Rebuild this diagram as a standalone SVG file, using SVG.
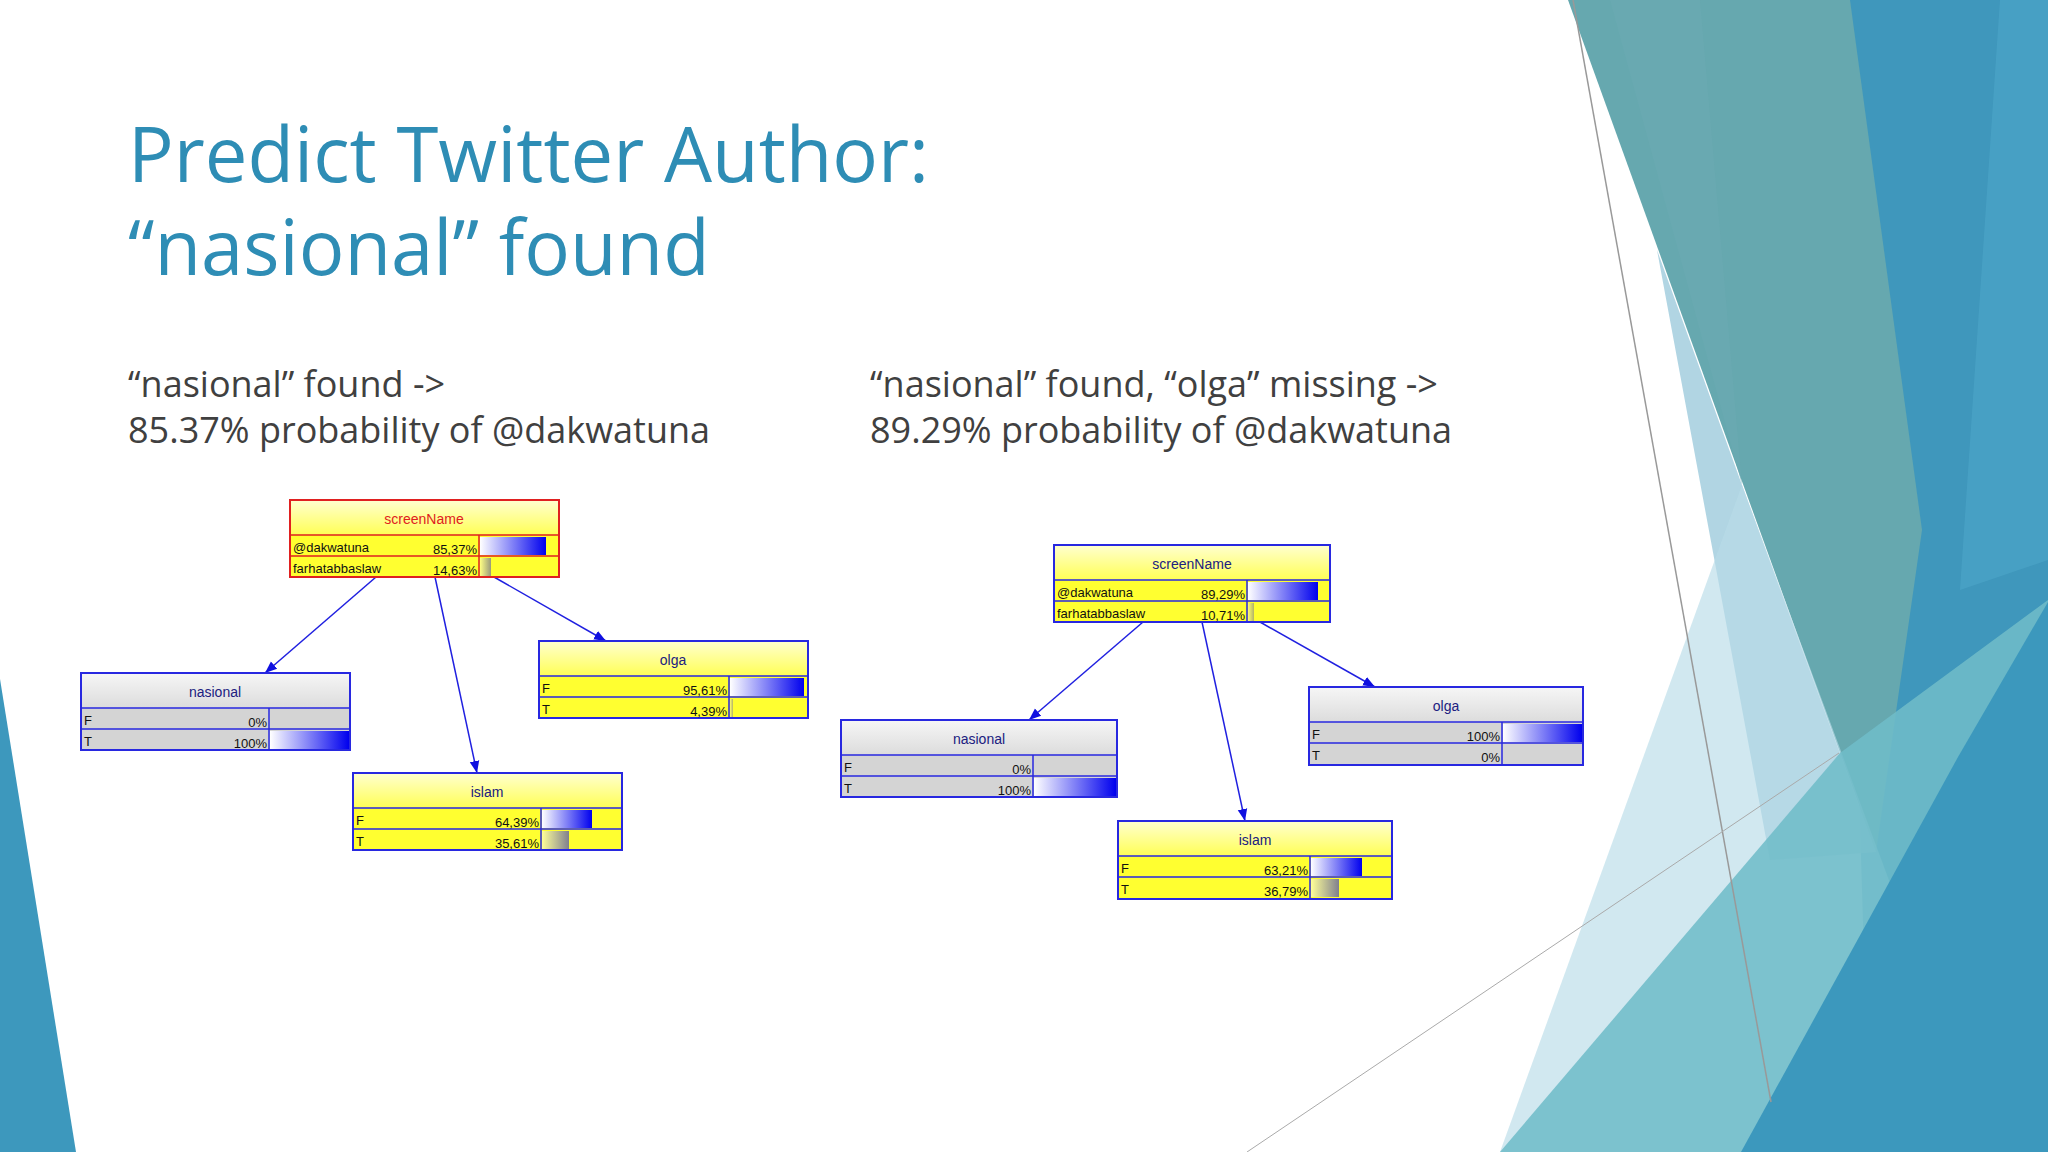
<svg xmlns="http://www.w3.org/2000/svg" width="2048" height="1152" viewBox="0 0 2048 1152">
<defs>
<linearGradient id="bar" x1="0" x2="1" y1="0" y2="0"><stop offset="0" stop-color="#ffffff"/><stop offset="1" stop-color="#0000ee"/></linearGradient>
<linearGradient id="hy" x1="0" x2="0" y1="0" y2="1"><stop offset="0" stop-color="#ffffd0"/><stop offset="1" stop-color="#ffff55"/></linearGradient>
<linearGradient id="hg" x1="0" x2="0" y1="0" y2="1"><stop offset="0" stop-color="#f6f6f6"/><stop offset="1" stop-color="#dcdcdc"/></linearGradient>
<marker id="ah" viewBox="0 0 10 10" refX="10" refY="5" markerWidth="8" markerHeight="8" orient="auto"><path d="M0,1 L10,5 L0,9 z" fill="#1010e0"/></marker>
</defs>
<style>
.title{font-family:"Open Sans","Liberation Sans",sans-serif;font-size:76px;fill:#2e8db5}
.sub{font-family:"Open Sans","Liberation Sans",sans-serif;font-size:36px;fill:#404040}
.nb{stroke:#2828e0;stroke-width:2}
.red{stroke:#e02020;stroke-width:2}
.ry{fill:#ffff30}
.rg{fill:#d4d4d4}
.ln{stroke:#2828e0;stroke-width:1.5;fill:none}
.t{font-family:"Liberation Sans",sans-serif;font-size:13px;fill:#111}
.h{font-family:"Liberation Sans",sans-serif;font-size:14px;fill:#202080;text-anchor:middle}
.v{text-anchor:end}
.conn{stroke:#2020e0;stroke-width:1.5;fill:none;marker-end:url(#ah)}
</style>
<rect width="2048" height="1152" fill="#ffffff"/>
<g id="background">
<polygon points="0,679 0,1152 76,1152" fill="#3d98bd"/>
<polygon points="1835,0 2048,0 2048,1152 1870,1152" fill="#3f97bc"/>
<polygon points="2000,0 2048,0 2048,560 1960,590" fill="#4aa3c6" opacity="0.8"/>
<polygon points="1568,0 1850,0 1922,530 1876,852" fill="#66a8af"/>
<polygon points="1610,0 1700,0 1742,485" fill="#6aaab2" opacity="0.6"/>
<polygon points="1657,250 1742,485 1876,852 1770,860" fill="#a8d0e0" opacity="0.9"/>
<polygon points="1500,1152 1742,485 1990,1152" fill="#b8dce8" opacity="0.65"/>
<polygon points="1500,1152 1840,753 2048,600 2048,1152" fill="#6fbcc8" opacity="0.88"/>
<polygon points="1741,1152 1958,757 2048,602 2048,1152" fill="#3c98bd"/>
<line x1="1573" y1="0" x2="1771" y2="1102" stroke="#999" stroke-width="1.5"/>
<line x1="1247" y1="1152" x2="1839" y2="753" stroke="#aaa" stroke-width="1"/>
</g>
<text class="title" x="128" y="182">Predict Twitter Author:</text>
<text class="title" x="128" y="275">“nasional” found</text>
<text class="sub" x="128" y="397">“nasional” found -&gt;</text>
<text class="sub" x="128" y="443">85.37% probability of @dakwatuna</text>
<text class="sub" x="870" y="397">“nasional” found, “olga” missing -&gt;</text>
<text class="sub" x="870" y="443">89.29% probability of @dakwatuna</text>

<g id="connectors">
<line class="conn" x1="376" y1="577" x2="265" y2="673"/>
<line class="conn" x1="435" y1="577" x2="477" y2="773"/>
<line class="conn" x1="494" y1="577" x2="606" y2="641"/>
<line class="conn" x1="1143" y1="622" x2="1029" y2="720"/>
<line class="conn" x1="1202" y1="622" x2="1245" y2="821"/>
<line class="conn" x1="1260" y1="622" x2="1375" y2="687"/>
</g>

<g id="L-screenName">
<rect x="290" y="500" width="269" height="35" fill="url(#hy)"/>
<rect x="290" y="535" width="269" height="42" class="ry"/>
<rect x="480" y="537" width="66" height="18" fill="url(#bar)"/>
<rect x="480" y="558" width="11" height="18" fill="url(#bar)" opacity="0.4"/>
<path class="ln" d="M290,535H559M290,556H559M479,535V577" style="stroke:#e02020"/>
<rect x="290" y="500" width="269" height="77" fill="none" class="red"/>
<text class="h" x="424" y="524" style="fill:#e02020">screenName</text>
<text class="t" x="293" y="552">@dakwatuna</text><text class="t v" x="477" y="554">85,37%</text>
<text class="t" x="293" y="573">farhatabbaslaw</text><text class="t v" x="477" y="575">14,63%</text>
</g>
<g id="L-nasional">
<rect x="81" y="673" width="269" height="35" fill="url(#hg)"/>
<rect x="81" y="708" width="269" height="42" class="rg"/>
<rect x="270" y="731" width="79" height="18" fill="url(#bar)"/>
<path class="ln" d="M81,708H350M81,729H350M269,708V750"/>
<rect x="81" y="673" width="269" height="77" fill="none" class="nb"/>
<text class="h" x="215" y="697">nasional</text>
<text class="t" x="84" y="725">F</text><text class="t v" x="267" y="727">0%</text>
<text class="t" x="84" y="746">T</text><text class="t v" x="267" y="748">100%</text>
</g>
<g id="L-olga">
<rect x="539" y="641" width="269" height="35" fill="url(#hy)"/>
<rect x="539" y="676" width="269" height="42" class="ry"/>
<rect x="730" y="678" width="74" height="18" fill="url(#bar)"/>
<rect x="730" y="699" width="3" height="18" fill="url(#bar)" opacity="0.3"/>
<path class="ln" d="M539,676H808M539,697H808M729,676V718"/>
<rect x="539" y="641" width="269" height="77" fill="none" class="nb"/>
<text class="h" x="673" y="665">olga</text>
<text class="t" x="542" y="693">F</text><text class="t v" x="727" y="695">95,61%</text>
<text class="t" x="542" y="714">T</text><text class="t v" x="727" y="716">4,39%</text>
</g>
<g id="L-islam">
<rect x="353" y="773" width="269" height="35" fill="url(#hy)"/>
<rect x="353" y="808" width="269" height="42" class="ry"/>
<rect x="542" y="810" width="50" height="18" fill="url(#bar)"/>
<rect x="542" y="831" width="27" height="18" fill="url(#bar)" opacity="0.5"/>
<path class="ln" d="M353,808H622M353,829H622M541,808V850"/>
<rect x="353" y="773" width="269" height="77" fill="none" class="nb"/>
<text class="h" x="487" y="797">islam</text>
<text class="t" x="356" y="825">F</text><text class="t v" x="539" y="827">64,39%</text>
<text class="t" x="356" y="846">T</text><text class="t v" x="539" y="848">35,61%</text>
</g>

<g id="R-screenName">
<rect x="1054" y="545" width="276" height="35" fill="url(#hy)"/>
<rect x="1054" y="580" width="276" height="42" class="ry"/>
<rect x="1248" y="582" width="70" height="18" fill="url(#bar)"/>
<rect x="1248" y="603" width="6" height="18" fill="url(#bar)" opacity="0.3"/>
<path class="ln" d="M1054,580H1330M1054,601H1330M1247,580V622"/>
<rect x="1054" y="545" width="276" height="77" fill="none" class="nb"/>
<text class="h" x="1192" y="569">screenName</text>
<text class="t" x="1057" y="597">@dakwatuna</text><text class="t v" x="1245" y="599">89,29%</text>
<text class="t" x="1057" y="618">farhatabbaslaw</text><text class="t v" x="1245" y="620">10,71%</text>
</g>
<g id="R-nasional">
<rect x="841" y="720" width="276" height="35" fill="url(#hg)"/>
<rect x="841" y="755" width="276" height="42" class="rg"/>
<rect x="1034" y="778" width="82" height="18" fill="url(#bar)"/>
<path class="ln" d="M841,755H1117M841,776H1117M1033,755V797"/>
<rect x="841" y="720" width="276" height="77" fill="none" class="nb"/>
<text class="h" x="979" y="744">nasional</text>
<text class="t" x="844" y="772">F</text><text class="t v" x="1031" y="774">0%</text>
<text class="t" x="844" y="793">T</text><text class="t v" x="1031" y="795">100%</text>
</g>
<g id="R-olga">
<rect x="1309" y="687" width="274" height="35" fill="url(#hg)"/>
<rect x="1309" y="722" width="274" height="43" class="rg"/>
<rect x="1503" y="724" width="79" height="18" fill="url(#bar)"/>
<path class="ln" d="M1309,722H1583M1309,743H1583M1502,722V765"/>
<rect x="1309" y="687" width="274" height="78" fill="none" class="nb"/>
<text class="h" x="1446" y="711">olga</text>
<text class="t" x="1312" y="739">F</text><text class="t v" x="1500" y="741">100%</text>
<text class="t" x="1312" y="760">T</text><text class="t v" x="1500" y="762">0%</text>
</g>
<g id="R-islam">
<rect x="1118" y="821" width="274" height="35" fill="url(#hy)"/>
<rect x="1118" y="856" width="274" height="43" class="ry"/>
<rect x="1311" y="858" width="51" height="18" fill="url(#bar)"/>
<rect x="1311" y="879" width="28" height="18" fill="url(#bar)" opacity="0.5"/>
<path class="ln" d="M1118,856H1392M1118,877H1392M1310,856V899"/>
<rect x="1118" y="821" width="274" height="78" fill="none" class="nb"/>
<text class="h" x="1255" y="845">islam</text>
<text class="t" x="1121" y="873">F</text><text class="t v" x="1308" y="875">63,21%</text>
<text class="t" x="1121" y="894">T</text><text class="t v" x="1308" y="896">36,79%</text>
</g>
</svg>
